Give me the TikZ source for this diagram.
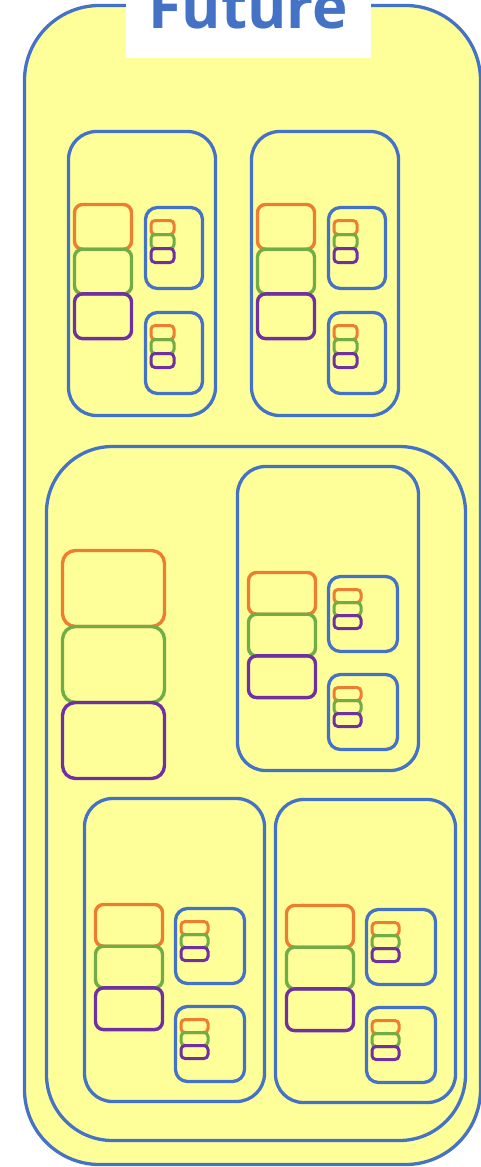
\documentclass[tikz,border=0pt]{standalone}
\usepackage{fontspec}
\newfontfamily\titlefont{Open Sans}
\usetikzlibrary{positioning}
\definecolor{frameblue}{HTML}{4472C4}
\definecolor{lemon}{HTML}{FFFF99}
\definecolor{cellorange}{HTML}{ED7D31}
\definecolor{cellgreen}{HTML}{70AD47}
\definecolor{cellpurple}{HTML}{7030A0}

\begin{document}
\begin{tikzpicture}[x=1pt,y=-1pt,
  box/.style={rectangle,draw=frameblue,line width=3.3pt,inner sep=0pt,outer sep=0pt,anchor=north west},
  shell/.style={box,fill=lemon,rounded corners=75pt},
  region/.style={box,rounded corners=66pt},
  module/.style={box,rounded corners=28pt},
  slot/.style={box,rounded corners=12pt},
  cell/.style={rectangle,draw=#1,line width=3.4pt,inner sep=0pt,outer sep=0pt,anchor=north west,rounded corners=8pt},
  tiny/.style={cell=#1,line width=3pt,rounded corners=4pt},
  titlebox/.style={fill=white,text=frameblue,font=\titlefont\bfseries\fontsize{60}{60}\selectfont,anchor=base,inner sep=0pt,minimum width=245pt,text height=70pt,text depth=30pt}
]
\useasboundingbox (0,0) rectangle (481,1167);
\node[shell,minimum width=456,minimum height=1159] (future) at (24.5,5.5) {};
\node[titlebox] (title) at (248.5,28) {Future};
\node[region,minimum width=419,minimum height=694] (core) at (46.5,446.5) {};
% big stack in the core
\node[cell=cellorange,rounded corners=13pt,minimum width=102,minimum height=76] (core-o) at (62.5,550.5) {};
\node[cell=cellgreen,rounded corners=13pt,minimum width=102,minimum height=76] (core-g) at (core-o.south west) {};
\node[cell=cellpurple,rounded corners=13pt,minimum width=102,minimum height=76] (core-p) at (core-g.south west) {};
% modules
\foreach \m/\x/\y/\w/\h/\bx/\by/\cw/\ch/\sx/\sa/\sb/\sw/\sh/\tw/\th in {
  m1/68.5/131.5/147/284/6/73/57/44.7/77/76/181/57/81/23/14,
  m2/251.5/131.5/147/284/6/73/57/44.7/77/76/181/57/81/23/14,
  m3/237.5/466.5/181/304/11/106/67/41.7/91/110/208/69/75/27/13,
  m4/84.5/798.5/180/303/11/106/67/41.7/91/110/208/69/75/27/13,
  m5/275.5/799.5/180/303/11/106/67/41.7/91/110/208/69/75/27/13}{
  \node[module,minimum width=\w,minimum height=\h] (\m) at (\x,\y) {};
  \node[cell=cellorange,minimum width=\cw,minimum height=\ch] (\m-o) at ([shift={(\bx,\by)}]\m.north west) {};
  \node[cell=cellgreen,minimum width=\cw,minimum height=\ch] (\m-g) at (\m-o.south west) {};
  \node[cell=cellpurple,minimum width=\cw,minimum height=\ch] (\m-p) at (\m-g.south west) {};
  \foreach \s/\yy in {a/\sa,b/\sb}{
    \node[slot,minimum width=\sw,minimum height=\sh] (\m-\s) at ([shift={(\sx,\yy)}]\m.north west) {};
    \node[tiny=cellorange,minimum width=\tw,minimum height=\th] (\m-\s-o) at ([shift={(5.5,13)}]\m-\s.north west) {};
    \node[tiny=cellgreen,minimum width=\tw,minimum height=\th] (\m-\s-g) at (\m-\s-o.south west) {};
    \node[tiny=cellpurple,minimum width=\tw,minimum height=\th] (\m-\s-p) at (\m-\s-g.south west) {};
  }
}
\end{tikzpicture}
\end{document}
